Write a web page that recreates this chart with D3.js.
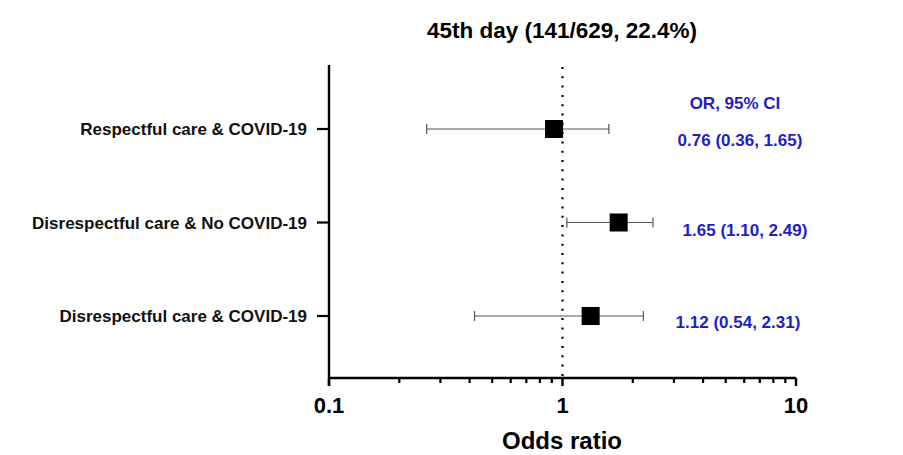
<!DOCTYPE html>
<html>
<head>
<meta charset="utf-8">
<script src="https://cdn.jsdelivr.net/npm/d3@7"></script>
<style>
  body { margin: 0; background: #fff; }
  svg { display: block; font-family: Arial, "Liberation Sans", sans-serif; }
  .lbl { font-weight: bold; font-size: 17px; fill: #111; }
  .ann { font-weight: bold; font-size: 17px; fill: #1e1ec8; }
</style>
</head>
<body>
<svg id="chart" width="903" height="455"></svg>
<script>
// data
var groups = ['Respectful care & COVID-19', 'Disrespectful care & No COVID-19', 'Disrespectful care & COVID-19']
var orPlotted = [0.92, 1.74, 1.32]
var ciLow = [0.262, 1.044, 0.42]
var ciHigh = [1.58, 2.44, 2.22]
var orText = ['0.76 (0.36, 1.65)', '1.65 (1.10, 2.49)', '1.12 (0.54, 2.31)']
var xTicks = [0.1, 1, 10]
var title = '45th day (141/629, 22.4%)'

var svg = d3.select('#chart')

var x = d3.scaleLog().domain([0.1, 10]).range([329, 796])
var y = d3.scalePoint().domain(groups).range([129, 316])
var yTop = 65
var yBottom = 378

// title
svg.append('text')
  .attr('x', 562).attr('y', 38)
  .attr('text-anchor', 'middle')
  .style('font-weight', 'bold').style('font-size', '22.5px')
  .text(title)

// dotted reference line at OR = 1
svg.append('line')
  .attr('x1', x(1)).attr('x2', x(1))
  .attr('y1', yTop + 2).attr('y2', yBottom)
  .attr('stroke', '#000').attr('stroke-width', 2.2)
  .attr('stroke-dasharray', '2,7.3')

// x axis with minor ticks
var minor = []
;[0.1, 1].forEach(function (b) { for (var i = 2; i <= 9; i++) minor.push(b * i) })

var xa = svg.append('g').attr('transform', 'translate(0,' + yBottom + ')')
xa.append('line').attr('x1', x(0.1)).attr('x2', x(10)).attr('stroke', '#000').attr('stroke-width', 2.4)
xa.selectAll('.minor').data(minor).enter().append('line')
  .attr('class', 'minor')
  .attr('x1', function (d) { return x(d) }).attr('x2', function (d) { return x(d) })
  .attr('y1', 0).attr('y2', 5)
  .attr('stroke', '#000').attr('stroke-width', 2.2)
xa.selectAll('.major').data(xTicks).enter().append('line')
  .attr('class', 'major')
  .attr('x1', function (d) { return x(d) }).attr('x2', function (d) { return x(d) })
  .attr('y1', 0).attr('y2', 8)
  .attr('stroke', '#000').attr('stroke-width', 2.4)
xa.selectAll('.tl').data(xTicks).enter().append('text')
  .attr('x', function (d) { return x(d) }).attr('y', 35)
  .attr('text-anchor', 'middle')
  .style('font-weight', 'bold').style('font-size', '22px')
  .text(function (d) { return d })

svg.append('text')
  .attr('x', 562).attr('y', 449)
  .attr('text-anchor', 'middle')
  .style('font-weight', 'bold').style('font-size', '24px')
  .text('Odds ratio')

// y axis
var ya = svg.append('g').attr('transform', 'translate(' + x(0.1) + ',0)')
ya.append('line').attr('y1', yTop).attr('y2', yBottom + 8).attr('stroke', '#000').attr('stroke-width', 2.4)
ya.selectAll('.yt').data(groups).enter().append('line')
  .attr('x1', -12).attr('x2', 0)
  .attr('y1', function (d) { return y(d) }).attr('y2', function (d) { return y(d) })
  .attr('stroke', '#000').attr('stroke-width', 2.2)
ya.selectAll('.lbl').data(groups).enter().append('text')
  .attr('class', 'lbl')
  .attr('x', -22).attr('y', function (d) { return y(d) })
  .attr('dy', '0.36em')
  .attr('text-anchor', 'end')
  .text(function (d) { return d })

// error bars and squares
var rows = groups.map(function (g, i) {
  return { name: g, or: orPlotted[i], lo: ciLow[i], hi: ciHigh[i] }
})
var row = svg.selectAll('.row').data(rows).enter().append('g')
  .attr('transform', function (d) { return 'translate(0,' + y(d.name) + ')' })
row.append('line')
  .attr('x1', function (d) { return x(d.lo) }).attr('x2', function (d) { return x(d.hi) })
  .attr('stroke', '#555').attr('stroke-width', 1.2)
row.selectAll('.cap').data(function (d) { return [d.lo, d.hi] }).enter().append('line')
  .attr('x1', function (d) { return x(d) }).attr('x2', function (d) { return x(d) })
  .attr('y1', -5).attr('y2', 5)
  .attr('stroke', '#555').attr('stroke-width', 1.2)
row.append('rect')
  .attr('x', function (d) { return x(d.or) - 9 }).attr('y', -9)
  .attr('width', 18).attr('height', 18)
  .attr('fill', '#000')

// OR annotations
var annX = [740, 745, 738]
var annDy = [11, 7, 6]
svg.append('text').attr('class', 'ann')
  .attr('x', 735).attr('y', 109).attr('text-anchor', 'middle')
  .text('OR, 95% CI')
svg.selectAll('.annv').data(orText).enter().append('text')
  .attr('class', 'ann')
  .attr('x', function (d, i) { return annX[i] })
  .attr('y', function (d, i) { return y(groups[i]) + annDy[i] + 6 })
  .attr('text-anchor', 'middle')
  .text(function (d) { return d })
</script>
</body>
</html>
